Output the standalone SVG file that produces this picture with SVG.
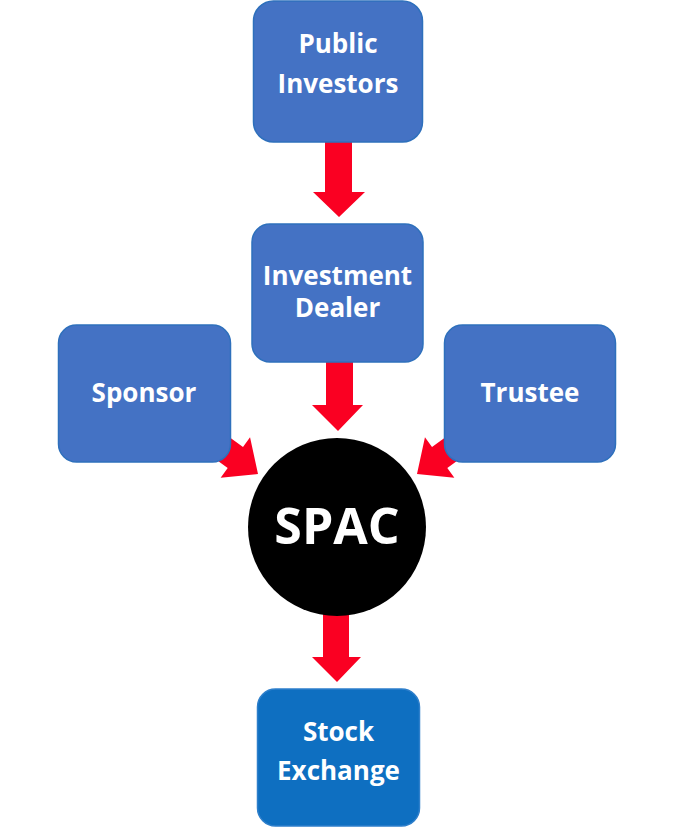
<svg xmlns="http://www.w3.org/2000/svg" width="675" height="829" viewBox="0 0 675 829">
<style>
.box{fill:#4472C4;stroke:#2E70BC;stroke-width:1.5}
.box2{fill:#0E6FC1;stroke:#2E7FCB;stroke-width:1.5}
.arr{fill:#FA0022}
text{font-family:"Open Sans","Noto Sans","Liberation Sans",sans-serif;font-weight:700;fill:#FFFFFF;text-anchor:middle}
.t{font-size:26px}
.big{font-size:50px}
</style>
<rect width="675" height="829" fill="#FFFFFF"/>
<g id="connectors">
<polygon class="arr" points="325,140 352,140 352,192 365,192 339,217 313,192 325,192"/>
<polygon class="arr" points="326,360 353,360 353,405 363,405 338,431 312,405 326,405"/>
<polygon class="arr" points="323,610 349,610 349,657 361,657 337,682 312,657 323,657"/>
<polygon class="arr" transform="translate(258,474) rotate(36)" points="-100,-13 -28,-13 -28,-25 0,0 -28,25 -28,13 -100,13"/>
<polygon class="arr" transform="translate(417,474) rotate(144)" points="-100,-13 -28,-13 -28,-25 0,0 -28,25 -28,13 -100,13"/>
</g>
<g id="public-investors">
<rect class="box" x="253.5" y="1" width="169" height="141" rx="20"/>
<text class="t" x="338" y="53">Public</text>
<text class="t" x="338" y="93">Investors</text>
</g>
<g id="investment-dealer">
<rect class="box" x="252" y="224" width="171" height="138" rx="18"/>
<text class="t" x="337.5" y="285">Investment</text>
<text class="t" x="337.5" y="317">Dealer</text>
</g>
<g id="sponsor">
<rect class="box" x="58.5" y="325" width="172" height="137" rx="18"/>
<text class="t" x="144" y="402">Sponsor</text>
</g>
<g id="trustee">
<rect class="box" x="444.5" y="325" width="171" height="137" rx="18"/>
<text class="t" x="530" y="402">Trustee</text>
</g>
<g id="spac">
<circle cx="337" cy="527" r="89" fill="#000000"/>
<text class="big" x="337" y="544">SPAC</text>
</g>
<g id="stock-exchange">
<rect class="box2" x="257.5" y="689" width="162" height="137" rx="18"/>
<text class="t" x="338.5" y="741">Stock</text>
<text class="t" x="338.5" y="780">Exchange</text>
</g>
</svg>
